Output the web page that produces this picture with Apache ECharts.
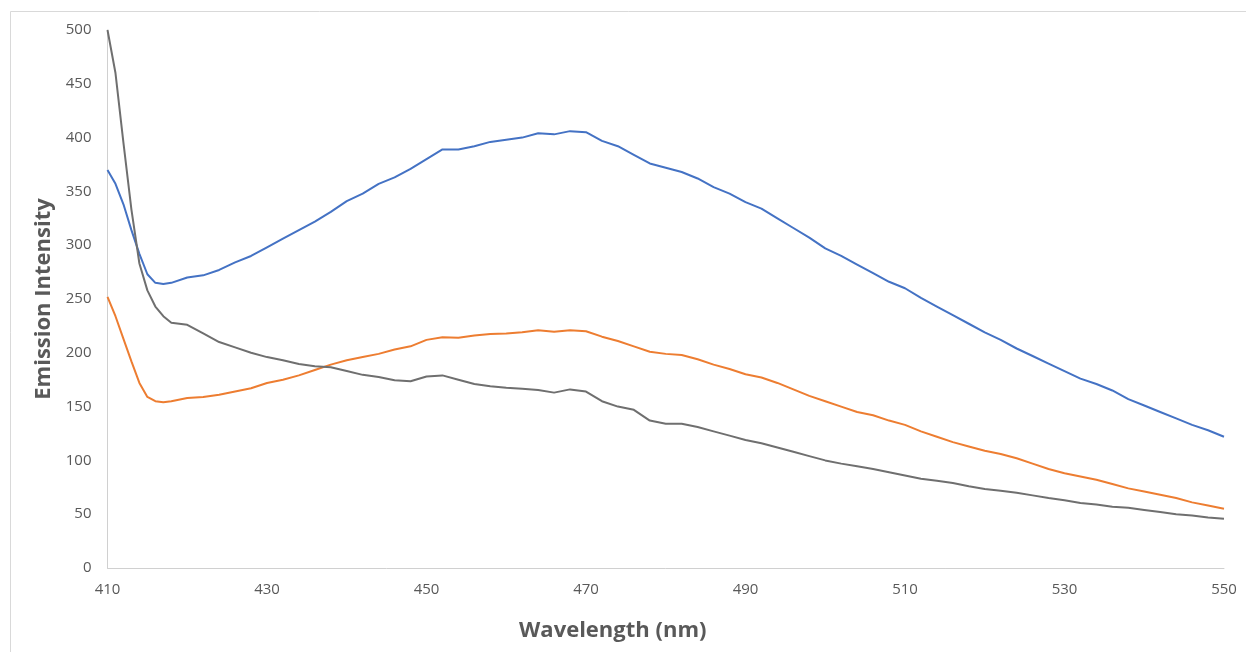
<!DOCTYPE html>
<html>
<head>
<meta charset="utf-8">
<script src="https://cdn.jsdelivr.net/npm/echarts@6/dist/echarts.min.js"></script>
<style>
  html, body { margin: 0; padding: 0; background: #fff; }
  #main { width: 1246px; height: 652px; }
</style>
</head>
<body>
<div id="main"></div>
<script>
// wavelengths (nm) the curves were read at
var wavelengths = [410, 411, 412, 413, 414, 415, 416, 417, 418,
  420, 422, 424, 426, 428, 430, 432, 434, 436, 438, 440, 442, 444, 446, 448,
  450, 452, 454, 456, 458, 460, 462, 464, 466, 468, 470, 472, 474, 476, 478,
  480, 482, 484, 486, 488, 490, 492, 494, 496, 498, 500, 502, 504, 506, 508,
  510, 512, 514, 516, 518, 520, 522, 524, 526, 528, 530, 532, 534, 536, 538,
  540, 542, 544, 546, 548, 550];

var blueVals = [370, 357, 338, 314, 292, 273, 265, 264, 265,
  270, 272, 277, 284, 290, 298, 306, 314, 322, 331, 341, 348, 357, 363, 371,
  380, 389, 389, 392, 396, 398, 400, 404, 403, 406, 405, 397, 392, 384, 376,
  372, 368, 362, 354, 348, 340, 334, 325, 316, 307, 297, 290, 282, 274, 266,
  260, 251, 243, 235, 227, 219, 212, 204, 197, 190, 183, 176, 171, 165, 157,
  151, 145, 139, 133, 128, 122];

var orangeVals = [252, 234, 213, 192, 172, 159, 155, 154, 155,
  158, 159, 161, 164, 167, 172, 175, 179, 184, 189, 193, 196, 199, 203, 206,
  212, 214.5, 214, 216, 217.5, 218, 219, 221, 219.5, 221, 220, 215, 211, 206, 201,
  199, 198, 194, 189, 185, 180, 177, 172, 166, 160, 155, 150, 145, 142, 137,
  133, 127, 122, 117, 113, 109, 106, 102, 97, 92, 88, 85, 82, 78, 74,
  71, 68, 65, 61, 58, 55];

var grayVals = [500, 460, 395, 333, 283, 258, 243, 234, 228,
  226, 218, 210, 205, 200, 196, 193, 189.5, 187.5, 186.5, 183, 179.5, 177.5, 174.5, 173.5,
  178, 179, 175, 171, 169, 167.5, 166.5, 165.5, 163, 166, 164, 155, 150, 147, 137,
  134, 134, 131, 127, 123, 119, 116, 112, 108, 104, 100, 97, 94.5, 92, 89,
  86, 83, 81, 79, 76, 73.5, 71.8, 70, 67.5, 65, 63, 60.4, 59, 57, 56,
  54, 52, 50, 48.8, 47, 45.8];

var xTicks = [410, 430, 450, 470, 490, 510, 530, 550];

function pairs(vals) {
  return wavelengths.map(function (w, i) { return [w, vals[i]]; });
}

var chart = echarts.init(document.getElementById('main'));
var labelFont = '"Open Sans", "DejaVu Sans", sans-serif';

var option = {
  backgroundColor: '#fff',
  animation: false,
  graphic: [{
    type: 'rect',
    shape: { x: 10.5, y: 11.5, width: 1400, height: 800 },
    style: { fill: 'none', stroke: '#d9d9d9', lineWidth: 1 },
    silent: true
  }],
  grid: { left: 107.5, right: 22, top: 30, bottom: 84, containLabel: false },
  xAxis: {
    type: 'value',
    min: 410,
    max: 550,
    name: 'Wavelength (nm)',
    nameLocation: 'middle',
    nameGap: 52,
    nameTextStyle: {
      fontFamily: labelFont, fontWeight: 'bold', fontSize: 22, color: '#595959',
      padding: [0, 106, 0, 0]
    },
    axisLine: { show: true, lineStyle: { color: '#d0d0d0', width: 1 } },
    axisTick: { show: false },
    splitLine: { show: false },
    axisLabel: {
      customValues: xTicks,
      margin: 14,
      fontFamily: labelFont,
      fontSize: 15,
      color: '#595959'
    }
  },
  yAxis: {
    type: 'value',
    min: 0,
    max: 500,
    interval: 50,
    name: 'Emission Intensity',
    nameLocation: 'middle',
    nameGap: 50,
    nameRotate: 90,
    nameTextStyle: { fontFamily: labelFont, fontWeight: 'bold', fontSize: 22, color: '#595959' },
    axisLine: { show: true, lineStyle: { color: '#d0d0d0', width: 1 } },
    axisTick: { show: false },
    splitLine: { show: false },
    axisLabel: { margin: 16, fontFamily: labelFont, fontSize: 15, color: '#595959' }
  },
  series: [
    {
      name: 'Series1', type: 'line', data: pairs(blueVals),
      showSymbol: false, smooth: false,
      lineStyle: { color: '#4472C4', width: 2 }, itemStyle: { color: '#4472C4' }
    },
    {
      name: 'Series2', type: 'line', data: pairs(orangeVals),
      showSymbol: false, smooth: false,
      lineStyle: { color: '#ED7D31', width: 2 }, itemStyle: { color: '#ED7D31' }
    },
    {
      name: 'Series3', type: 'line', data: pairs(grayVals),
      showSymbol: false, smooth: false,
      lineStyle: { color: '#6F6F6F', width: 2 }, itemStyle: { color: '#6F6F6F' }
    }
  ]
};

chart.setOption(option);
window.addEventListener('resize', function () { chart.resize(); });
</script>
</body>
</html>
